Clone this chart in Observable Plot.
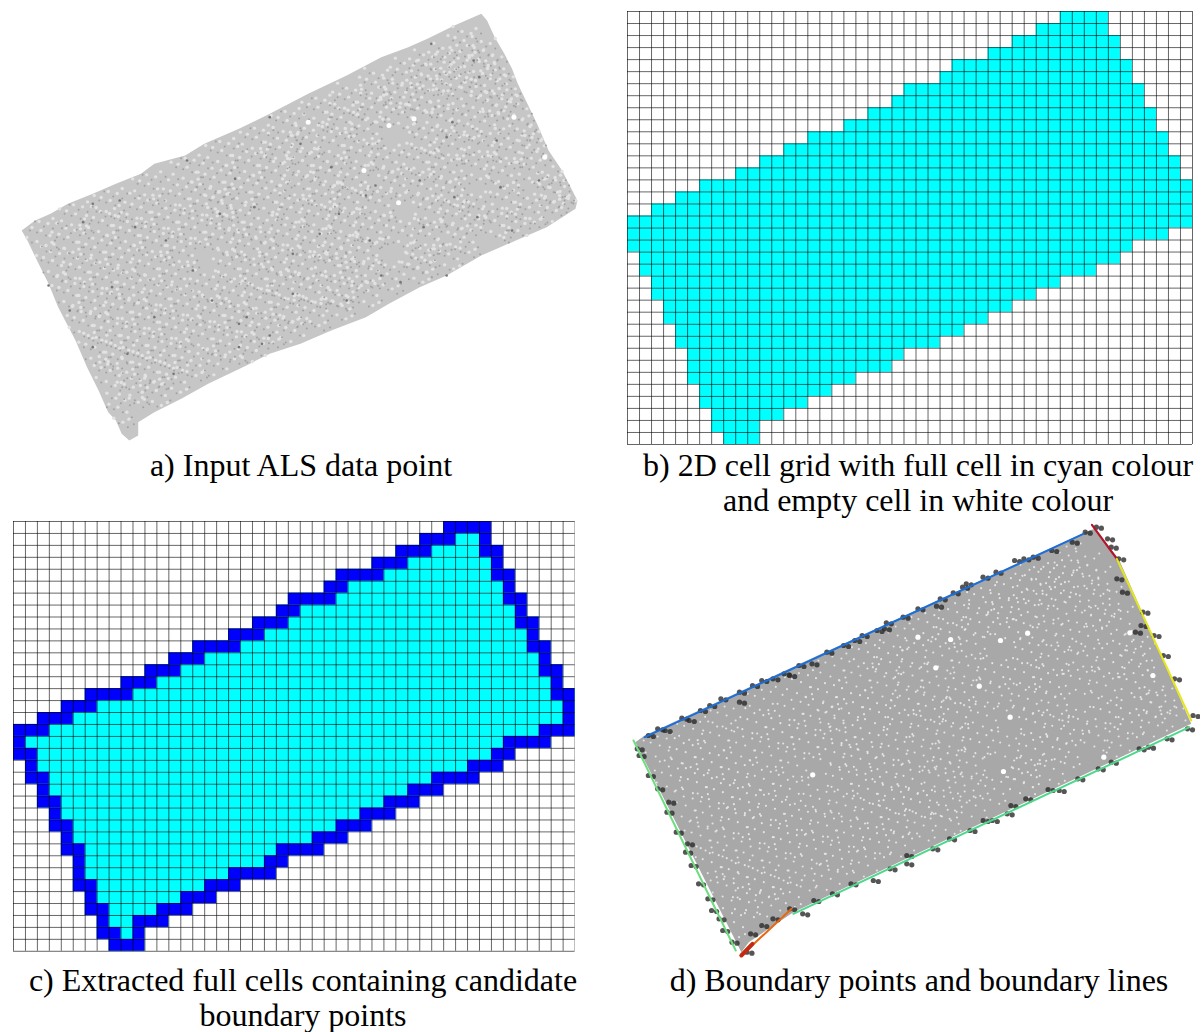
<!DOCTYPE html>
<html><head><meta charset="utf-8">
<script src="https://cdn.jsdelivr.net/npm/d3@7"></script>
<script src="https://cdn.jsdelivr.net/npm/@observablehq/plot@0.6"></script>
<style>
html,body{margin:0;padding:0;background:#fff;width:1203px;height:1032px;overflow:hidden}
#page{position:relative;width:1203px;height:1032px}
.panel{position:absolute}
.panel svg{display:block;background:transparent;max-width:none}
.cap{position:absolute;font-family:"Liberation Serif",serif;font-size:32px;line-height:35px;color:#000;text-align:center;white-space:nowrap;transform:translateX(-50%)}
</style></head><body><div id="page"></div>
<script>
// Grid panels: 47 columns, 36 rows; per row (top to bottom) first full column and end column.
const gridCols = 47, gridRows = 36;
const fullStart = [36,34,32,30,27,26,23,22,20,18,15,13,11,9,6,4,2,0,0,0,1,1,2,2,3,3,4,4,5,5,5,6,6,7,7,8];
const fullEnd   = [40,40,41,41,42,42,43,43,44,44,45,45,46,46,47,47,47,47,45,42,41,39,36,34,32,30,28,26,23,22,19,17,15,13,11,11];
// Panel c: boundary-cell runs as [row, startCol, endCol]
const boundaryRuns = [
[0,36,40],[1,34,37],[1,39,40],[2,32,35],[2,39,41],[3,30,33],[3,40,41],[4,27,31],[4,40,42],[5,26,28],[5,41,42],
[6,23,27],[6,41,43],[7,22,24],[7,42,43],[8,20,23],[8,42,44],[9,18,21],[9,43,44],[10,15,19],[10,43,45],
[11,13,16],[11,44,45],[12,11,14],[12,44,46],[13,9,12],[13,45,46],[14,6,10],[14,45,47],[15,4,7],[15,46,47],
[16,2,5],[16,46,47],[17,0,3],[17,44,47],[18,0,1],[18,41,45],[19,0,2],[19,40,42],[20,1,2],[20,38,41],
[21,1,3],[21,35,39],[22,2,3],[22,33,36],[23,2,4],[23,31,34],[24,3,4],[24,29,32],[25,3,5],[25,27,30],
[26,4,5],[26,25,28],[27,4,6],[27,22,26],[28,5,6],[28,21,23],[29,5,6],[29,18,22],[30,5,7],[30,16,19],
[31,6,7],[31,14,17],[32,6,8],[32,12,15],[33,7,8],[33,10,13],[34,7,9],[34,10,11],[35,8,11]];
// Panel a: outline and specks in zoom units (1560 x 1350)
const cloudOutline = [[55,690],[90,660],[130,640],[175,610],[240,580],[300,550],[365,520],[400,490],[480,465],[530,430],[620,385],[700,340],[800,280],[900,225],[990,170],[1060,140],[1110,115],[1180,75],[1250,40],[1265,60],[1285,110],[1310,160],[1330,205],[1345,250],[1370,310],[1395,370],[1425,450],[1460,510],[1500,600],[1495,625],[1420,680],[1340,720],[1250,765],[1160,825],[1090,860],[1010,910],[950,950],[860,990],[780,1030],[700,1060],[630,1100],[540,1150],[470,1195],[400,1235],[358,1265],[358,1305],[335,1320],[315,1300],[300,1260],[280,1235],[255,1170],[225,1100],[195,1020],[150,920],[125,850],[95,780],[70,720]];
const cloudDark = [[700,350],[485,480],[610,535],[350,680],[125,855],[215,665],[1175,365],[1160,410],[1245,230],[950,585],[975,555],[640,950],[620,970],[550,900],[1040,845],[990,825],[680,1030],[700,1005],[240,610],[310,600],[430,720],[500,810],[760,760],[830,700],[880,640],[1090,540],[1240,650],[1330,690],[1160,825],[1290,420],[1120,130],[1230,180],[860,500],[780,430],[570,640],[660,620],[400,950],[330,1060],[450,1120],[240,1040],[180,930],[290,860],[620,1040],[760,880],[900,900],[960,720],[1100,680],[1180,590],[1300,560],[1400,540]];
const cloudHoles = [[1010,375],[1075,355],[1335,350],[800,365],[945,510],[1035,607],[1415,470]];
// Panel d: boundary points, specks and fitted lines, in zoom units (1560 x 1350)
const roofOutline = [[65,660],[1250,50],[1275,40],[1340,130],[1535,625],[465,1190],[345,1280],[325,1310],[40,680]];
const boundaryPoints = [[75,660],[100,640],[120,645],[165,608],[185,615],[215,585],[240,570],[270,550],[320,530],[320,560],[355,510],[380,495],[410,490],[440,475],[455,480],[480,450],[515,445],[555,410],[600,390],[630,375],[650,360],[690,345],[710,340],[715,322],[760,305],[800,280],[850,272],[860,250],[895,232],[920,215],[930,205],[975,185],[1010,170],[1060,135],[1085,130],[1110,125],[1160,105],[1215,80],[1250,50],[1280,35],[1310,70],[1320,95],[1340,130],[1335,190],[1350,230],[1405,290],[1400,330],[1385,350],[1435,360],[1460,420],[1490,490],[1540,600],[1525,640],[1470,670],[1420,695],[1395,700],[1320,740],[1285,760],[1230,790],[1180,825],[1150,822],[1090,850],[1050,870],[1040,895],[1000,915],[975,915],[940,945],[885,970],[840,1000],[770,1020],[770,1045],[725,1060],[680,1095],[620,1105],[570,1135],[520,1155],[490,1195],[455,1180],[410,1210],[380,1230],[350,1255],[340,1310],[45,700],[50,720],[75,780],[100,820],[130,860],[125,890],[150,950],[180,985],[175,1010],[190,1050],[210,1105],[235,1150],[245,1185],[265,1210],[275,1245],[300,1280]];
const roofSpecks = [[1200,120],[1150,170],[1250,150],[1100,190],[1190,200],[1280,190],[1050,215],[1130,235],[1230,240],[1310,250],[970,245],[1020,275],[1090,290],[1170,280],[1260,300],[1340,310],[900,290],[960,320],[1040,335],[1140,345],[1210,370],[1290,340],[1380,400],[820,320],[880,350],[950,385],[1100,410],[1170,430],[1250,420],[1320,440],[1400,420],[740,360],[790,410],[860,420],[930,450],[1000,470],[1080,470],[1150,500],[1230,490],[1300,510],[1380,500],[1460,540],[660,410],[720,440],[780,480],[850,510],[920,530],[1020,540],[1090,550],[1170,570],[1225,610],[1310,590],[1420,560],[1490,600],[570,450],[640,480],[710,510],[770,550],[840,580],[900,590],[980,600],[1110,620],[1180,640],[1280,660],[1370,620],[1440,630],[480,500],[550,530],[620,560],[570,600],[690,590],[750,620],[820,640],[890,660],[960,680],[1040,690],[1110,700],[1200,710],[1340,690],[380,550],[460,580],[530,610],[600,650],[670,680],[740,700],[810,720],[880,740],[950,750],[1090,770],[1160,760],[280,600],[360,620],[430,650],[500,680],[570,710],[640,730],[710,770],[780,790],[850,780],[920,810],[1000,820],[1080,800],[190,640],[260,660],[330,690],[400,720],[470,750],[590,790],[660,820],[730,850],[800,860],[870,870],[950,870],[100,690],[170,710],[240,740],[310,770],[380,790],[450,820],[530,850],[600,870],[670,890],[740,920],[810,930],[880,910],[130,780],[200,800],[270,830],[340,860],[410,880],[480,910],[550,930],[620,960],[690,980],[760,990],[170,870],[240,900],[310,920],[380,950],[450,980],[520,1000],[590,1030],[660,1050],[210,960],[280,990],[350,1020],[420,1050],[490,1080],[560,1090],[240,1040],[310,1070],[380,1100],[450,1130],[280,1110],[340,1160],[400,1170],[300,1220]];
const roofHoles = [[1022,375],[965,512],[1048,605],[1095,353],[1370,352],[1432,480],[517,778],[848,457],[800,365],[888,372],[1300,725],[1030,768]];
const lineBlue = [[65,665],[1245,55]];
const lineRed = [[1268,28],[1335,130]];
const lineYellow = [[1335,130],[1535,615]];
const lineGreenBottom = [[465,1195],[1530,635]];
const lineGreenLeft = [[35,675],[310,1305]];
const lineOrange = [[460,1180],[325,1320]];
const lineDarkOrange = [[325,1320],[355,1285]];
const captions = [
 {t:"a) Input ALS data point", cx:301, y:448},
 {t:"b) 2D cell grid with full cell in cyan colour", cx:918, y:448},
 {t:"and empty cell in white colour", cx:918, y:483},
 {t:"c) Extracted full cells containing candidate", cx:303, y:963},
 {t:"boundary points", cx:303, y:998},
 {t:"d) Boundary points and boundary lines", cx:919, y:963}
];
// Shifts (px) of the speck texture, so the read specks stand for the much denser original.
const textureShifts = [[-9,-14],[0,-9],[9,-7],[-7,-3],[2,0],[11,5],[-12,7],[-2,11],[7,15],[-14,-5],[14,-12],[13,12]];
const inside = (poly, shift, kx, off) => d => d3.polygonContains(poly, [d[0]+(shift[0]+off)*kx, d[1]+(shift[1]+off)*3]);

const page = document.getElementById("page");
function place(node, left, top){
  const d = document.createElement("div");
  d.className = "panel"; d.style.left = left + "px"; d.style.top = top + "px";
  d.appendChild(node); page.appendChild(d);
}
const X = d => d[0], Y = d => d[1];
const rows = d3.range(gridRows).map(r => ({r, c1: fullStart[r], c2: fullEnd[r]}));
function gridPlot(extra, width, height){
  return Plot.plot({
    width, height, margin:1,
    x:{domain:[0,gridCols],axis:null}, y:{domain:[gridRows,0],axis:null},
    marks:[
      Plot.rect(rows,{x1:"c1",x2:"c2",y1:"r",y2:d=>d.r+1,fill:"#00ffff"}),
      ...extra,
      Plot.ruleX(d3.range(gridCols+1),{stroke:"#000",strokeOpacity:0.6,strokeWidth:1}),
      Plot.ruleY(d3.range(gridRows+1),{stroke:"#000",strokeOpacity:0.6,strokeWidth:1})
    ]
  });
}
const texture = (list, poly, kx, off, options) => textureShifts.map(s =>
  Plot.dot(list.filter(inside(poly, s, kx, off)), {x:X, y:Y, dx:s[0]+off, dy:s[1]+off, ...options}));
// a) input points
const a = Plot.plot({
  width:600,height:450,margin:0,
  x:{domain:[0,1560],axis:null}, y:{domain:[1350,0],axis:null},
  marks:[
    Plot.line(cloudOutline,{x:X,y:Y,fill:"#c6c6c6",stroke:"none"}),
    ...texture(roofSpecks, cloudOutline, 2.6, 0, {r:1.7, fill:"#e2e2e2"}),
    ...texture(roofSpecks, cloudOutline, 2.6, 5, {r:1, fill:"#a2a2a2"}),
    Plot.dot(cloudDark,{x:X,y:Y,r:1.3,fill:"#777"}),
    Plot.dot(cloudHoles,{x:X,y:Y,r:2.5,fill:"#fff"})
  ]
});
place(a,0,0);
// b) full cells
place(gridPlot([],567,435),625.7,10);
// c) boundary cells
place(gridPlot([
  Plot.rect(boundaryRuns,{x1:d=>d[1],x2:d=>d[2],y1:d=>d[0],y2:d=>d[0]+1,fill:"#0000ff"})
],563.6,431.8),11.7,520);
// d) boundary points and lines
const seg = (pts,stroke,w) => Plot.line(pts,{x:X,y:Y,stroke,strokeWidth:w});
place(Plot.plot({
  width:580,height:450,margin:0,
  x:{domain:[0,1560],axis:null}, y:{domain:[1350,0],axis:null},
  marks:[
  Plot.line(roofOutline,{x:X,y:Y,fill:"#a8a8a8",stroke:"none"}),
  ...texture(roofSpecks, roofOutline, 2.69, 0, {r:1.05, fill:"#e4e4e4"}),
  Plot.dot(roofHoles,{x:X,y:Y,r:2.6,fill:"#fff"}),
  ...[[0,0],[5,1]].map(s => Plot.dot(boundaryPoints,{x:X,y:Y,dx:s[0],dy:s[1],r:2.6,fill:"#2a2a2a",fillOpacity:0.8})),
  seg(lineBlue,"#1c6fd8",2),
  seg(lineRed,"#b3162a",2.2),
  seg(lineYellow,"#e6e61e",2),
  seg(lineGreenBottom,"#4fd88c",2),
  seg(lineGreenLeft,"#6fdc80",2),
  seg(lineOrange,"#e8670f",2),
  seg(lineDarkOrange,"#c42a10",4)
]}),620,515);
for(const c of captions){
  const d = document.createElement("div");
  d.className="cap"; d.textContent=c.t; d.style.left=c.cx+"px"; d.style.top=c.y+"px";
  page.appendChild(d);
}
</script></body></html>
